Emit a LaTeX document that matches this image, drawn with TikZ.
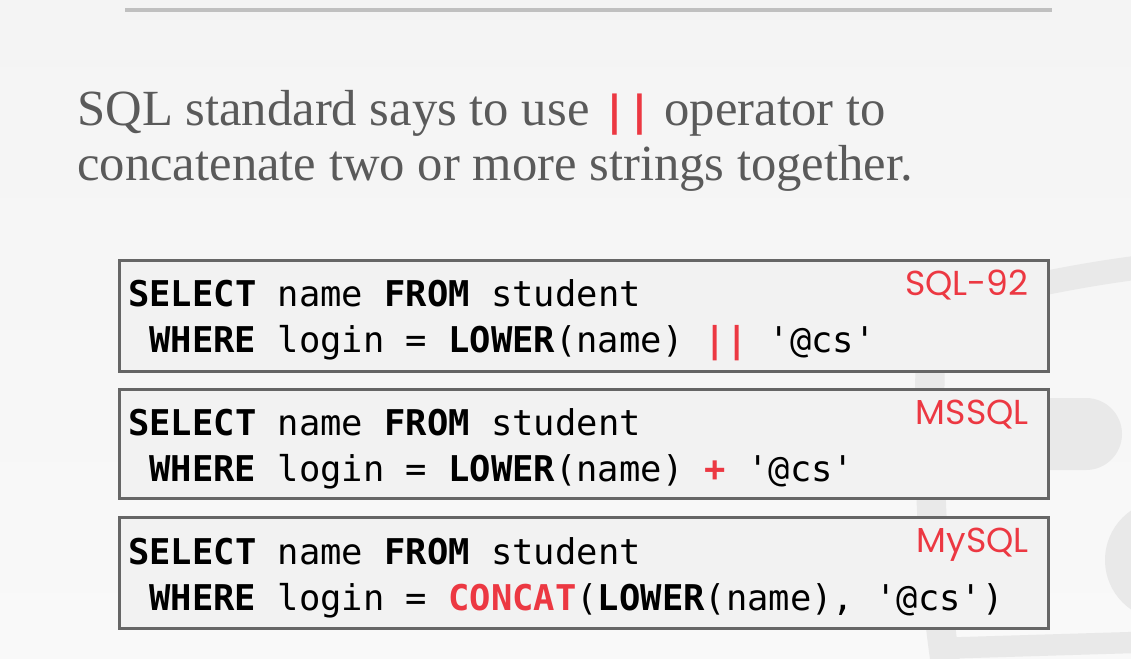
\documentclass[tikz,border=0pt]{standalone}
\usepackage{fontspec}
\setmainfont{Liberation Serif}
\setmonofont{DejaVu Sans Mono}
\newfontfamily\dialectfont{Poppins}
\definecolor{slidebg}{RGB}{244,244,244}
\definecolor{slidebgb}{RGB}{249,249,249}
\definecolor{rulegray}{RGB}{192,192,192}
\definecolor{titlegray}{RGB}{90,90,90}
\definecolor{boxfill}{RGB}{242,242,242}
\definecolor{boxline}{RGB}{102,102,102}
\definecolor{hired}{RGB}{236,56,66}
\definecolor{logogray}{RGB}{233,233,233}
\newcommand{\kw}[1]{\textbf{#1}}
\newcommand{\hl}[1]{\textcolor{hired}{\textbf{#1}}}
\tikzset{
	title/.style={anchor=base west, inner sep=0pt, text=titlegray, font=\fontsize{38}{46}\selectfont},
	codebox/.style={draw=boxline, fill=boxfill, line width=2.25pt},
	code/.style={anchor=base west, inner sep=0pt, font=\ttfamily\fontsize{26.6}{34.5}\selectfont},
	dialect/.style={anchor=base east, inner sep=0pt, text=hired, font=\dialectfont\fontsize{26}{30}\selectfont},
	logo/.style={draw=logogray, line cap=round}
}
\begin{document}
\begin{tikzpicture}[x=0.75pt, y=-0.75pt]
	% background and faint logo
	\shade[top color=slidebg, bottom color=slidebgb] (0,0) rectangle (1131,658);
	\useasboundingbox (0,0) rectangle (1131,658);
	\draw[logo, line width=18pt] (1040,284) .. controls (1080,276) and (1110,271) .. (1150,266);
	\fill[logogray] (1040,398) [rounded corners=27pt] -- (1122,398) -- (1122,470) [sharp corners] -- (1040,470) -- cycle;
	\draw[logo, line width=22pt] (930,372) .. controls (928,500) and (935,600) .. (948,680);
	\draw[logo, line width=16pt] (950,648) -- (1150,642);
	\fill[logogray] (1165,560) circle (60);
	\draw[rulegray, line width=3pt] (125,10) -- (1052,10);
	% title
	\node[title] (head1) at (77,125) {SQL standard says to use {\ttfamily\bfseries\fontsize{31}{31}\selectfont\color{hired}||} operator to};
	\node[title] (head2) at (77,180) {concatenate two or more strings together.};
	% SQL-92
	\draw[codebox] (119,260) rectangle (1048,371);
	\node[code] (q1a) at (128,306) {\kw{SELECT} name \kw{FROM} student};
	\node[code] (q1b) at (149.3,352) {\kw{WHERE} login = \kw{LOWER}(name) \hl{||} '@cs'};
	\node[dialect] (d1) at (1029,295) {SQL-92};
	% MSSQL
	\draw[codebox] (119,389) rectangle (1048,498);
	\node[code] (q2a) at (128,435) {\kw{SELECT} name \kw{FROM} student};
	\node[code] (q2b) at (149.3,481) {\kw{WHERE} login = \kw{LOWER}(name) \hl{+} '@cs'};
	\node[dialect] (d2) at (1029,424) {MSSQL};
	% MySQL
	\draw[codebox] (119,517) rectangle (1048,628);
	\node[code] (q3a) at (128,564) {\kw{SELECT} name \kw{FROM} student};
	\node[code] (q3b) at (149.3,610) {\kw{WHERE} login = \hl{CONCAT}(\kw{LOWER}(name), '@cs')};
	\node[dialect] (d3) at (1029,552) {MySQL};
\end{tikzpicture}
\end{document}
